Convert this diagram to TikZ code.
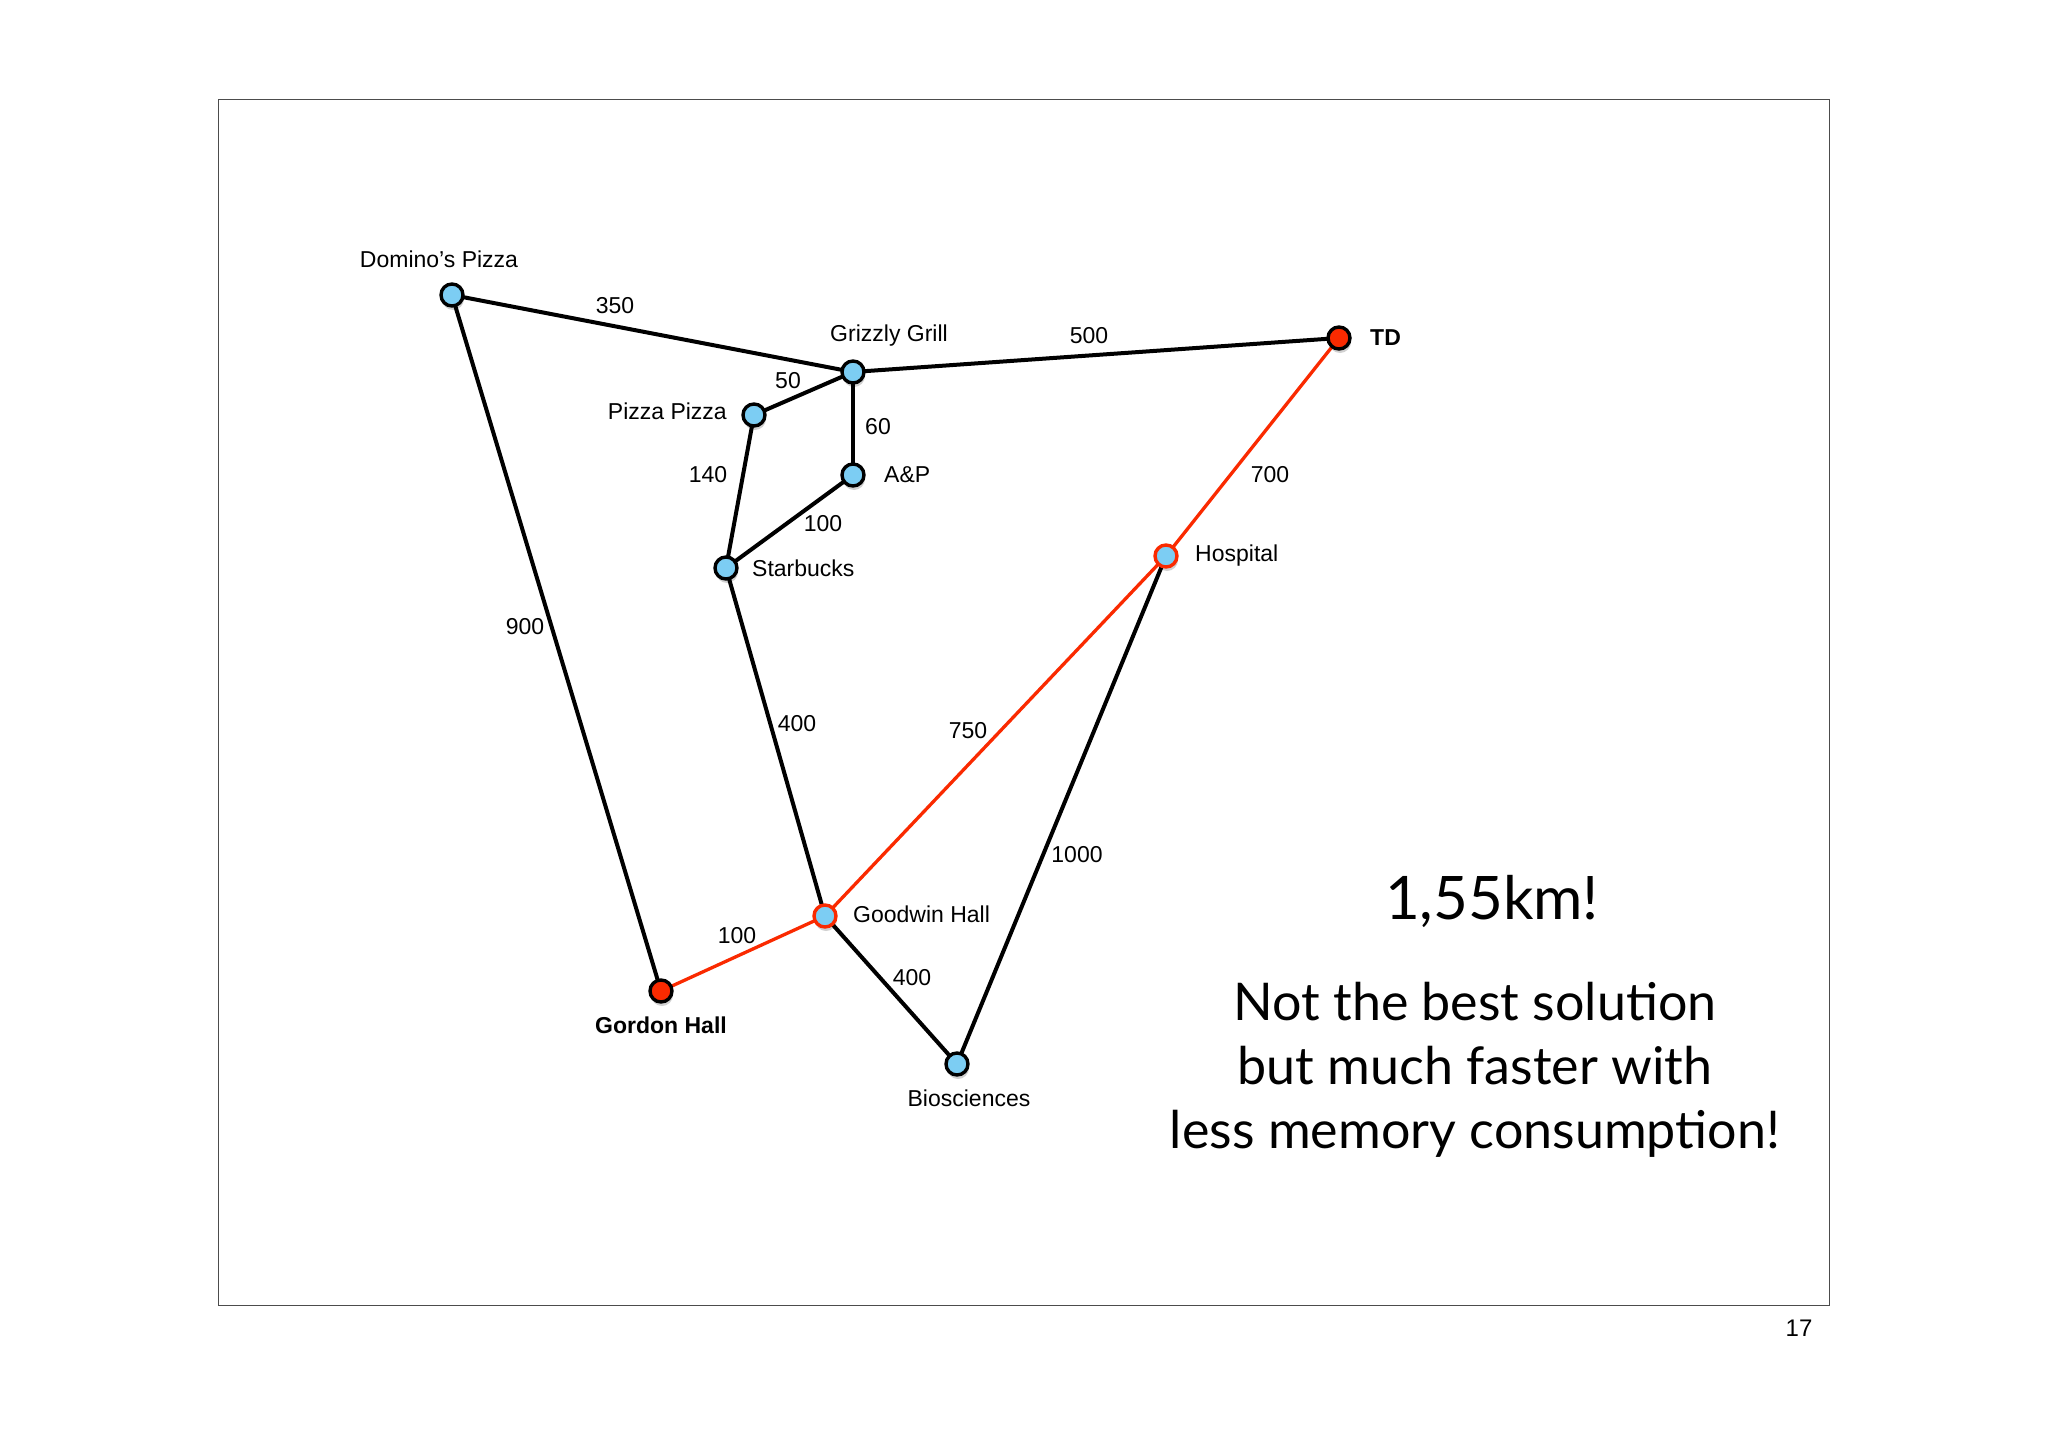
\documentclass[tikz,border=0pt]{standalone}
\usepackage{fontspec}
\setmainfont{Liberation Sans}
\newfontfamily\gillfont{Lato}
\usetikzlibrary{backgrounds,shadows}
\definecolor{skyb}{RGB}{124,205,243}
\definecolor{redpath}{RGB}{250,42,0}
\pgfdeclarelayer{paper}
\pgfsetlayers{paper,background,main}
\begin{document}
\begin{tikzpicture}[x=1pt,y=-1pt,
  city/.style={circle, draw=black, line width=3.4pt, fill=skyb, minimum size=22pt, inner sep=0pt,
    drop shadow={shadow xshift=1pt, shadow yshift=-4pt, opacity=0.18, fill=black}},
  redcity/.style={city, fill=redpath},
  redring/.style={city, draw=redpath},
  lbl/.style={font=\fontsize{23}{27}\selectfont, inner sep=0pt},
  blbl/.style={lbl, font=\fontsize{23}{27}\selectfont\bfseries},
  wt/.style={font=\fontsize{23}{27}\selectfont, inner sep=0pt},
  road/.style={draw=black, line width=4pt},
  redroad/.style={draw=redpath, line width=3.3pt},
  big/.style={font=\gillfont\fontsize{52}{64}\selectfont, inner sep=0pt}]
\useasboundingbox (0,0) rectangle (2048,1447);
\begin{pgfonlayer}{paper}
\fill[white] (0,0) rectangle (2048,1447);
\end{pgfonlayer}
\node[draw=black!70, line width=1.2pt, minimum width=1611pt, minimum height=1206pt, anchor=north west, inner sep=0pt] (frame) at (218,99) {};

% nodes
\node[city] (dom) at (452,295) {};
\node[city] (griz) at (853,372) {};
\node[city] (pizza) at (754,415) {};
\node[city] (ap) at (853,475) {};
\node[city] (star) at (726,568) {};
\node[redcity] (td) at (1339,338) {};
\node[redring] (hosp) at (1166,556) {};
\node[redring] (good) at (825,916) {};
\node[redcity] (gord) at (661,991) {};
\node[city] (bio) at (957,1064) {};

% edges
\begin{pgfonlayer}{background}
\draw[road] (dom.center) -- (griz.center);
\draw[road] (griz.center) -- (td.center);
\draw[road] (griz.center) -- (pizza.center);
\draw[road] (griz.center) -- (ap.center);
\draw[road] (pizza.center) -- (star.center);
\draw[road] (ap.center) -- (star.center);
\draw[road] (dom.center) -- (gord.center);
\draw[road] (star.center) -- (good.center);
\draw[road] (hosp.center) -- (bio.center);
\draw[road] (good.center) -- (bio.center);
\draw[redroad] (good.center) -- (hosp.center);
\draw[redroad] (td.center) -- (hosp.center);
\draw[redroad] (good.center) -- (gord.center);
\end{pgfonlayer}

% city labels
\node[lbl] (ldom) at (439,259) {Domino's Pizza};
\node[lbl] (lgriz) at (889,336) {Grizzly Grill};
\node[lbl, anchor=east] (lpizza) at (727,411) {Pizza Pizza};
\node[lbl, anchor=west] (lap) at (884,475) {A\&P};
\node[lbl, anchor=west] (lstar) at (752,568) {Starbucks};
\node[blbl, anchor=west] (ltd) at (1370,338) {TD};
\node[lbl, anchor=west] (lhosp) at (1195,556) {Hospital};
\node[lbl, anchor=west] (lgood) at (853,914) {Goodwin Hall};
\node[blbl] (lgord) at (661,1025) {Gordon Hall};
\node[lbl] (lbio) at (969,1098) {Biosciences};

% weights
\node[wt] (w350) at (615,306) {350};
\node[wt] (w500) at (1089,336) {500};
\node[wt] (w50) at (788,381) {50};
\node[wt] (w60) at (878,427) {60};
\node[wt] (w140) at (708,475) {140};
\node[wt] (w100a) at (823,524) {100};
\node[wt] (w900) at (525,627) {900};
\node[wt] (w400a) at (797,724) {400};
\node[wt] (w750) at (968,731) {750};
\node[wt] (w700) at (1270,475) {700};
\node[wt] (w1000) at (1077,855) {1000};
\node[wt] (w100b) at (737,936) {100};
\node[wt] (w400b) at (912,978) {400};

% right text
\node[big, font=\gillfont\fontsize{60}{70}\selectfont, anchor=base] (km) at (1492,919) {1,55km!};
\node[big, anchor=base] (msg1) at (1475,1020) {Not the best solution};
\node[big, anchor=base] (msg2) at (1475,1084) {but much faster with};
\node[big, anchor=base] (msg3) at (1475,1148) {less memory consumption!};

\node[font=\fontsize{24}{28}\selectfont, inner sep=0pt] (page) at (1799,1328) {17};
\end{tikzpicture}
\end{document}
